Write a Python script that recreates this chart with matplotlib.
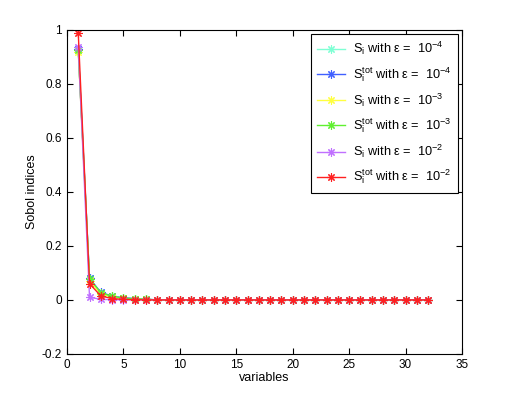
import numpy as np
import matplotlib.pyplot as plt
from matplotlib.ticker import FuncFormatter

plt.rcParams['font.family'] = ['Liberation Sans', 'DejaVu Sans']
plt.rcParams['mathtext.fontset'] = 'custom'
plt.rcParams['mathtext.rm'] = 'Liberation Sans'
plt.rcParams['mathtext.it'] = 'Liberation Sans'

x = np.arange(1, 33)
tail = [0.0] * 25

s_1e4 = [0.93, 0.08, 0.025, 0.012, 0.007, 0.004, 0.002] + tail
stot_1e4 = [0.93, 0.08, 0.028, 0.014, 0.008, 0.005, 0.003] + tail
s_1e3 = [0.92, 0.07, 0.022, 0.011, 0.006, 0.003, 0.002] + tail
stot_1e3 = [0.925, 0.078, 0.027, 0.013, 0.007, 0.004, 0.002] + tail
s_1e2 = [0.935, 0.01, 0.002, 0.001, 0.0, 0.0, 0.0] + tail
stot_1e2 = [0.99, 0.06, 0.015, 0.005, 0.002, 0.001, 0.0] + tail

series = [s_1e4, stot_1e4, s_1e3, stot_1e3, s_1e2, stot_1e2]
colors = ['#7fffd4', '#4060ff', '#ffff40', '#60f030', '#c070ff', '#ff2020']
labels = [
    r'S$_\mathrm{i}$ with $\epsilon$ =  10$^{-4}$',
    r'S$_\mathrm{i}^\mathrm{tot}$ with $\epsilon$ =  10$^{-4}$',
    r'S$_\mathrm{i}$ with $\epsilon$ =  10$^{-3}$',
    r'S$_\mathrm{i}^\mathrm{tot}$ with $\epsilon$ =  10$^{-3}$',
    r'S$_\mathrm{i}$ with $\epsilon$ =  10$^{-2}$',
    r'S$_\mathrm{i}^\mathrm{tot}$ with $\epsilon$ =  10$^{-2}$',
]

fig = plt.figure(figsize=(5.15, 3.99), dpi=100)
ax = fig.add_axes([0.130, 0.113, 0.767, 0.812])

for y, c, lab in zip(series, colors, labels):
    ax.plot(x, y, color=c, marker=(8, 2, 0), markersize=6, linewidth=1,
            markeredgewidth=0.8, label=lab)

ax.set_xlim(0, 35)
ax.set_ylim(-0.2, 1)
ax.set_xticks(range(0, 36, 5))
ax.set_yticks([-0.2, 0, 0.2, 0.4, 0.6, 0.8, 1])
ax.yaxis.set_major_formatter(FuncFormatter(lambda v, p: '%g' % round(v, 2)))
ax.tick_params(direction='in', top=True, right=True, labelsize=8.5, length=4)
ax.set_xlabel('variables', fontsize=9, labelpad=1)
ax.set_ylabel('Sobol indices', fontsize=9, labelpad=3)

leg = ax.legend(loc='upper right', fontsize=9.2, fancybox=False, framealpha=1,
                edgecolor='black', handlelength=2.2, handletextpad=0.6,
                borderaxespad=0.3, labelspacing=0.6, borderpad=0.5)
leg.get_frame().set_linewidth(0.8)

fig.savefig('out.png', dpi=100)
